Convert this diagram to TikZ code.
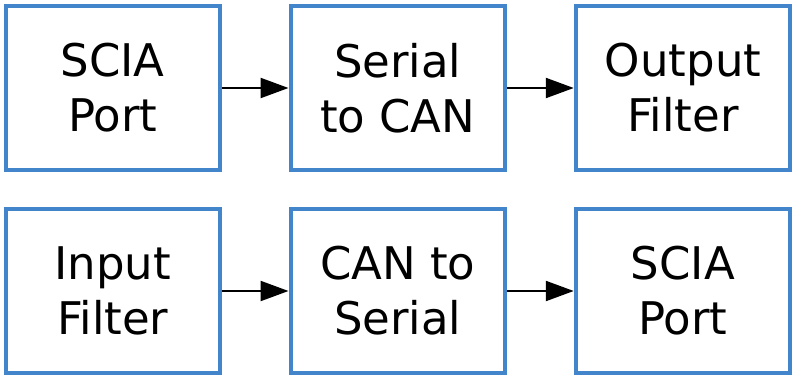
\documentclass[tikz,border=0pt]{standalone}
\usepackage{fontspec}
\setmainfont{DejaVu Sans}
\usetikzlibrary{arrows.meta}
\definecolor{boxblue}{RGB}{66,133,202}
\tikzset{
  block/.style={draw=boxblue, line width=4.5pt, minimum width=214pt, minimum height=164pt,
    inner sep=0pt, align=center, font=\fontsize{45}{55}\selectfont, text=black},
  conn/.style={line width=2.3pt, -{Triangle[length=28pt,width=20pt]}}
}
\begin{document}
\begin{tikzpicture}
\useasboundingbox (0,0) rectangle (792pt,-377pt);
\node[block] (a1) at (112.75pt,-88pt) {SCIA\\Port};
\node[block] (a2) at (397.75pt,-88pt) {Serial\\to CAN};
\node[block] (a3) at (683pt,-88pt) {Output\\Filter};
\node[block] (b1) at (112.75pt,-291pt) {Input\\Filter};
\node[block] (b2) at (397.75pt,-291pt) {CAN to\\Serial};
\node[block] (b3) at (683pt,-291pt) {SCIA\\Port};
\draw[conn] (a1) -- (a2);
\draw[conn] (a2) -- (a3);
\draw[conn] (b1) -- (b2);
\draw[conn] (b2) -- (b3);
\end{tikzpicture}
\end{document}
